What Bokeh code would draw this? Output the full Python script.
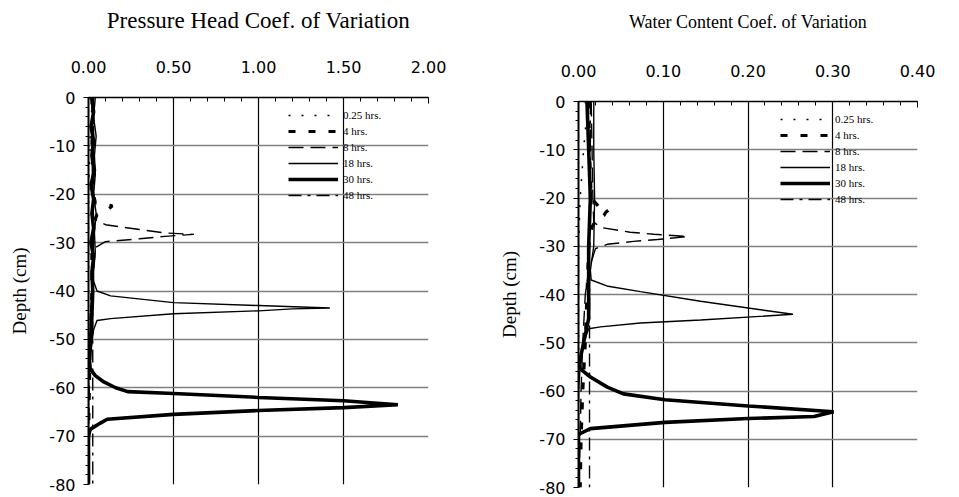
from bokeh.plotting import figure
from bokeh.layouts import row, column
from bokeh.models import FixedTicker, CustomJSTickFormatter
from bokeh.embed import file_html
from bokeh.resources import INLINE

# ---------------- data: pressure head coefficient of variation ----------------
ph_d_025 = [0, -2, -4, -6, -8, -10, -14, -20, -30, -40, -50, -60, -70, -80]
ph_v_025 = [0.01, 0.02, 0.015, 0.02, 0.01, 0.01, 0.005, 0.0, 0.0, 0.0, 0.0, 0.0, 0.0, 0.0]

ph_d_4 = [0, -5, -10, -15, -20, -21.8, -22.4, -23, -23.6, -24.2, -26, -30, -40, -50, -60, -70, -80]
ph_v_4 = [0.02, 0.025, 0.02, 0.025, 0.03, 0.04, 0.14, 0.12, 0.10, 0.05, 0.03, 0.02, 0.02, 0.01, 0.005, 0.0, 0.0]

ph_d_8 = [0, -10, -20, -25, -26.3, -27.3, -28.0, -28.3, -28.7, -29.2, -29.8, -31, -35, -40, -45, -50, -60, -70, -80]
ph_v_8 = [0.02, 0.02, 0.025, 0.03, 0.1, 0.3, 0.45, 0.62, 0.45, 0.3, 0.1, 0.04, 0.03, 0.02, 0.01, 0.01, 0.005, 0.0, 0.0]

ph_d_18 = [0, -4, -8, -12, -16, -20, -24, -28, -32, -36, -38, -40, -41, -42.4, -43, -43.5, -43.7, -44.1, -44.7, -45.7, -46.1,
           -48, -52, -56, -60, -70, -80]
ph_v_18 = [0.04, 0.03, 0.045, 0.035, 0.04, 0.03, 0.045, 0.035, 0.04, 0.03, 0.03, 0.05, 0.13, 0.5, 1.0, 1.42, 1.2, 1.0, 0.5, 0.13, 0.05,
           0.03, 0.015, 0.0, 0.0, 0.0, 0.0]

ph_d_30 = [0, -3, -6, -9, -12, -15, -18, -21, -24, -27, -30, -33, -36, -40, -45, -50, -54, -56.1, -57.5, -58.8, -60.0, -60.8,
           -61.2, -62, -62.7, -63.5, -64.1, -64.7, -65.5, -66.5, -67.3, -68.6, -70, -75, -80]
ph_v_30 = [0.02, 0.03, 0.015, 0.03, 0.02, 0.035, 0.015, 0.03, 0.02, 0.03, 0.015, 0.03, 0.02, 0.025, 0.02, 0.015, 0.005, 0.01,
           0.04, 0.09, 0.16, 0.23, 0.5, 1.0, 1.5, 1.82, 1.5, 1.0, 0.5, 0.11, 0.07, 0.01, 0.0, 0.0, 0.0]

ph_d_48 = [0, -10, -20, -30, -40, -50, -60, -70, -80]
ph_v_48 = [0.03, 0.03, 0.025, 0.03, 0.025, 0.025, 0.025, 0.025, 0.025]

# ---------------- data: water content coefficient of variation ----------------
wc_d_025 = [0, -3, -6, -10, -15, -20, -30, -40, -50, -60, -70, -80]
wc_v_025 = [0.008, 0.01, 0.008, 0.006, 0.004, 0.002, 0.0, 0.0, 0.0, 0.0, 0.0, 0.0]

wc_d_4 = [0, -10, -20, -22.0, -22.4, -23, -23.6, -24.2, -26, -30, -40, -50, -60, -70, -80]
wc_v_4 = [0.012, 0.013, 0.015, 0.025, 0.036, 0.032, 0.03, 0.022, 0.016, 0.012, 0.01, 0.008, 0.005, 0.003, 0.002]

wc_d_8 = [0, -10, -20, -25, -26.1, -27.1, -27.5, -28.0, -28.6, -29.0, -29.6, -30.5, -35, -40, -50, -60, -70, -80]
wc_v_8 = [0.015, 0.016, 0.017, 0.018, 0.026, 0.061, 0.089, 0.129, 0.093, 0.065, 0.034, 0.02, 0.012, 0.008, 0.005, 0.003, 0.002, 0.0]

wc_d_18 = [0, -10, -20, -30, -35, -37, -38.3, -39.4, -41.4, -44.1, -45.3, -45.9, -46.7, -47.1, -50, -55, -60, -70, -80]
wc_v_18 = [0.018, 0.018, 0.019, 0.018, 0.014, 0.015, 0.035, 0.073, 0.144, 0.253, 0.144, 0.073, 0.026, 0.012, 0.006, 0.002, 0.0, 0.0, 0.0]

wc_d_30 = [0, -10, -20, -30, -40, -45, -50, -55.1, -57.1, -59.2, -60.6, -61.8, -63.1, -64.3, -65.3, -65.7, -66.5, -67.8, -69, -75, -80]
wc_v_30 = [0.01, 0.012, 0.014, 0.012, 0.012, 0.012, 0.006, 0.0, 0.014, 0.034, 0.053, 0.102, 0.2, 0.301, 0.278, 0.2, 0.102, 0.014, 0.0, 0.0, 0.0]

wc_d_48 = [0, -10, -20, -30, -40, -50, -60, -70, -80]
wc_v_48 = [0.014, 0.014, 0.013, 0.013, 0.013, 0.013, 0.013, 0.013, 0.013]

# ---------------- ticks and labels ----------------
series_labels = ["0.25 hrs.", "4 hrs.", "8 hrs.", "18 hrs.", "30 hrs.", "48 hrs."]
depth_ticks = [0, -10, -20, -30, -40, -50, -60, -70, -80]
depth_tick_labels = ["0", "-10", "-20", "-30", "-40", "-50", "-60", "-70", "-80"]
ph_ticks = [0.0, 0.5, 1.0, 1.5, 2.0]
ph_tick_labels = ["0.00", "0.50", "1.00", "1.50", "2.00"]
wc_ticks = [0.0, 0.1, 0.2, 0.3, 0.4]
wc_tick_labels = ["0.00", "0.10", "0.20", "0.30", "0.40"]

titles = ["Pressure Head Coef. of Variation", "Water Content Coef. of Variation"]
y_title = "Depth (cm)"

# line styles per series (dash, width)
styles = [("2 11", 1.5), ("7 13", 3.2), ("15 7", 1.4), ("solid", 1.4), ("solid", 3.6), ("13 6 3 6", 1.4)]

SERIF = "Liberation Serif"
SANS = "DejaVu Sans"

fmt_code = """
let i = -1;
for (let k = 0; k < vals.length; k++) { if (Math.abs(vals[k] - tick) < 1e-9) { i = k; } }
return i >= 0 ? labels[i] : '';
"""


def make_panel(series, xr, xticks, xlabels, title, title_size, title_standoff, width, left, right, top, bottom, legend_xy):
    p = figure(width=width, height=497, x_range=xr, y_range=(-80, 0),
               x_axis_location="above", output_backend="svg", toolbar_location=None,
               min_border_left=left, min_border_right=right, min_border_top=top,
               min_border_bottom=bottom)
    p.outline_line_color = None
    p.background_fill_color = "white"
    p.border_fill_color = "white"

    step = (xticks[1] - xticks[0]) / 5.0
    xminor = [xticks[0] + step * k for k in range(int(round((xticks[-1] - xticks[0]) / step)) + 1)]
    yminor = [-2.0 * k for k in range(41)]

    xa = p.xaxis[0]
    xa.ticker = FixedTicker(ticks=xticks, minor_ticks=xminor)
    xa.formatter = CustomJSTickFormatter(args=dict(vals=xticks, labels=xlabels), code=fmt_code)
    xa.axis_label = title
    xa.axis_label_text_font = SERIF
    xa.axis_label_text_font_size = title_size
    xa.axis_label_text_font_style = "normal"
    xa.axis_label_text_color = "black"
    xa.axis_label_standoff = title_standoff
    xa.major_label_text_font = SANS
    xa.major_label_text_font_size = "16px"
    xa.major_label_text_color = "black"
    xa.major_label_standoff = 25
    xa.major_tick_in = 6
    xa.major_tick_out = 0
    xa.minor_tick_in = 4
    xa.minor_tick_out = 0
    xa.axis_line_color = "black"
    xa.axis_line_width = 1.5
    xa.major_tick_line_color = "black"
    xa.minor_tick_line_color = "black"

    ya = p.yaxis[0]
    ya.ticker = FixedTicker(ticks=depth_ticks, minor_ticks=yminor)
    ya.formatter = CustomJSTickFormatter(args=dict(vals=depth_ticks, labels=depth_tick_labels), code=fmt_code)
    ya.axis_label = y_title
    ya.axis_label_text_font = SERIF
    ya.axis_label_text_font_size = "19px"
    ya.axis_label_text_font_style = "normal"
    ya.axis_label_text_color = "black"
    ya.axis_label_standoff = 16
    ya.major_label_text_font = SANS
    ya.major_label_text_font_size = "16px"
    ya.major_label_text_color = "black"
    ya.major_label_standoff = 8
    ya.major_tick_in = 0
    ya.major_tick_out = 5
    ya.minor_tick_in = 0
    ya.minor_tick_out = 3
    ya.axis_line_color = "black"
    ya.axis_line_width = 2
    ya.major_tick_line_color = "black"
    ya.minor_tick_line_color = "black"

    p.xgrid.grid_line_color = "black"
    p.xgrid.grid_line_width = 1.2
    p.ygrid.grid_line_color = "#808080"
    p.ygrid.grid_line_width = 1.5

    for (d, v), lab, (dash, w) in zip(series, series_labels, styles):
        p.line(v, d, line_color="black", line_width=w, line_dash=dash, legend_label=lab)

    lg = p.legend[0]
    lg.location = legend_xy
    lg.padding = 0
    lg.margin = 0
    lg.spacing = 0
    lg.glyph_width = 50
    lg.glyph_height = 16
    lg.label_height = 16
    lg.label_standoff = 5
    lg.label_text_font = SERIF
    lg.label_text_font_size = "11px"
    lg.label_text_color = "black"
    lg.border_line_alpha = 0
    lg.background_fill_alpha = 0
    return p


ph_series = [(ph_d_025, ph_v_025), (ph_d_4, ph_v_4), (ph_d_8, ph_v_8),
             (ph_d_18, ph_v_18), (ph_d_30, ph_v_30), (ph_d_48, ph_v_48)]
wc_series = [(wc_d_025, wc_v_025), (wc_d_4, wc_v_4), (wc_d_8, wc_v_8),
             (wc_d_18, wc_v_18), (wc_d_30, wc_v_30), (wc_d_48, wc_v_48)]

p1 = make_panel(ph_series, (0, 2.0), ph_ticks, ph_tick_labels, titles[0], "23px", 25, 480, 88, 52, 97, 13, (200, 281))
p2 = make_panel(wc_series, (0, 0.4), wc_ticks, wc_tick_labels, titles[1], "18px", 30, 479, 98, 42, 101, 10, (202, 280))

layout = row(column(p1), column(p2))
open("out.html", "w").write(file_html(layout, INLINE))
